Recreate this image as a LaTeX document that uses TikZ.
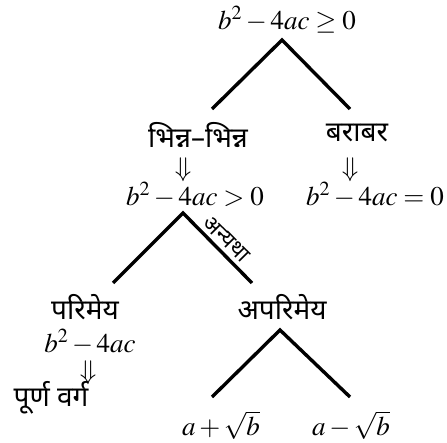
\documentclass[tikz,border=0pt]{standalone}
\usepackage{mathptmx}
\usepackage[no-math]{fontspec}
\newfontfamily\hindi[Script=Devanagari]{Noto Sans}
\usetikzlibrary{positioning}
\tikzset{
  mtext/.style={inner sep=0pt, font=\fontsize{27}{31}\selectfont},
  htext/.style={inner sep=0pt, font=\fontsize{28}{32}\selectfont\hindi},
  branch/.style={line width=3.4pt, line join=miter},
}

\begin{document}
\begin{tikzpicture}[x=1pt, y=1pt]
  \useasboundingbox (0,0) rectangle (447,-443);
  % top level
  \node[mtext] (root) at (287,-20) {$b^2-4ac\geq 0$};
  \coordinate (a1) at (282,-40);
  \coordinate (l1) at (212,-109);
  \coordinate (r1) at (350,-109);
  \draw[branch] (l1) -- (a1) -- (r1);
  \node[htext] (distinct) at (198,-135) {भिन्न–भिन्न};
  \node[htext] (equal) at (357,-133) {बराबर};
  \node[mtext] (imp1) at (183,-170) {$\Downarrow$};
  \node[mtext] (imp2) at (350,-170) {$\Downarrow$};
  \node[mtext] (gt) at (195,-195) {$b^2-4ac>0$};
  \node[mtext] (eq) at (375,-195) {$b^2-4ac=0$};
  % second level
  \coordinate (a2) at (183,-213);
  \coordinate (l2) at (113,-283);
  \coordinate (r2) at (252,-283);
  \draw[branch] (l2) -- (a2) -- node[sloped, above=4pt, htext, font=\fontsize{22}{26}\selectfont\hindi] (else) {अन्यथा} (r2);
  \node[htext] (rational) at (85,-307) {परिमेय};
  \node[htext] (irrational) at (282,-307) {अपरिमेय};
  \node[mtext] (disc) at (90,-342) {$b^2-4ac$};
  \node[mtext] (imp3) at (88,-373) {$\Downarrow$};
  \node[htext] (square) at (51,-398) {पूर्ण वर्ग};
  % roots
  \coordinate (a3) at (280,-330);
  \coordinate (l3) at (212,-397);
  \coordinate (r3) at (350,-397);
  \draw[branch] (l3) -- (a3) -- (r3);
  \node[mtext] (plus) at (221,-425) {$a+\sqrt{b}$};
  \node[mtext] (minus) at (351,-425) {$a-\sqrt{b}$};
\end{tikzpicture}
\end{document}
